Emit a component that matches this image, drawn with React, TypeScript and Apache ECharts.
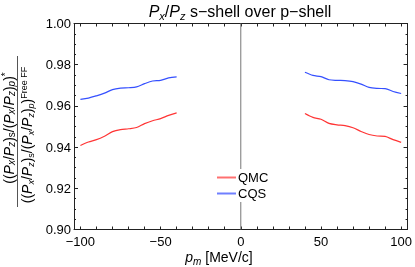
import React, { useEffect, useRef } from "react";
import * as echarts from "echarts";

const leftPm = [-100, -95, -90, -85, -80, -75, -70, -65, -60, -55, -50, -45, -40];
const rightPm = [40, 45, 50, 55, 60, 65, 70, 75, 80, 85, 90, 95, 100];

const qmcLeft = [0.9408, 0.9425, 0.9436, 0.9453, 0.9475, 0.9485, 0.9489, 0.9495, 0.9514, 0.9528, 0.9538, 0.9554, 0.9566];
const cqsLeft = [0.9632, 0.9638, 0.9649, 0.9662, 0.9679, 0.9686, 0.9688, 0.9692, 0.9708, 0.9721, 0.9724, 0.9736, 0.9741];
const qmcRight = [0.9563, 0.9544, 0.9535, 0.9515, 0.9508, 0.9504, 0.9494, 0.9476, 0.9461, 0.9454, 0.9452, 0.9436, 0.9423];
const cqsRight = [0.9763, 0.9748, 0.9742, 0.9727, 0.9724, 0.9723, 0.9718, 0.9706, 0.969, 0.9685, 0.9684, 0.967, 0.966];

const xLabelValues = [-100, -50, 0, 50, 100];
const xTickValues = [-100, -90, -80, -70, -60, -50, -40, -30, -20, -10, 0, 10, 20, 30, 40, 50, 60, 70, 80, 90, 100];

const RED = "#ff3535";
const BLUE = "#3550ff";
const FONT = "Liberation Sans, Arial, sans-serif";

const pair = (xs: number[], ys: number[]) => xs.map((x, i) => [x, ys[i]]);

const richBase = (size: number, subSize: number, lh: number) => ({
  n: { fontSize: size, fontFamily: FONT, color: "#000", lineHeight: lh },
  i: { fontSize: size, fontFamily: FONT, fontStyle: "italic", color: "#000", lineHeight: lh },
  sub: { fontSize: subSize, fontFamily: FONT, color: "#000", verticalAlign: "bottom", lineHeight: lh },
  isub: { fontSize: subSize, fontFamily: FONT, fontStyle: "italic", color: "#000", verticalAlign: "bottom", lineHeight: lh },
  sup: { fontSize: subSize, fontFamily: FONT, color: "#000", verticalAlign: "top", lineHeight: lh },
});

export default function App() {
  const ref = useRef<HTMLDivElement>(null);
  useEffect(() => {
    if (!ref.current) return;
    const chart = echarts.init(ref.current, undefined, { renderer: "svg" });
    const axisLineStyle = { color: "#222", width: 1 };
    const xCommon = {
      type: "value" as const,
      min: -104,
      max: 104,
      splitLine: { show: false },
      axisLine: { show: true, onZero: false, lineStyle: axisLineStyle },
      axisTick: { show: true, inside: true, length: 3, customValues: xTickValues, lineStyle: axisLineStyle },
    };
    const yCommon = {
      type: "value" as const,
      min: 0.9,
      max: 1.0,
      interval: 0.02,
      splitLine: { show: false },
      axisLine: { show: true, onZero: false, lineStyle: axisLineStyle },
      axisTick: { show: true, inside: true, length: 4, lineStyle: axisLineStyle },
      minorTick: { show: true, splitNumber: 4, length: 2, lineStyle: axisLineStyle },
    };
    const lineSeries = (name: string, data: number[][], color: string) => ({
      name,
      type: "line",
      data,
      smooth: 0.3,
      showSymbol: false,
      symbol: "none",
      lineStyle: { color, width: 1.2 },
      itemStyle: { color },
      silent: true,
      z: 3,
    });
    const pairText = (tail: string) =>
      "{n|((}{i|P}{isub|x}{n|/}{i|P}{isub|z}{n|)}{sub|s}{n|/(}{i|P}{isub|x}{n|/}{i|P}{isub|z}{n|)}{isub|p}{n|)}" + tail;
    chart.setOption({
      animation: false,
      grid: { left: 74, right: 5, top: 23.5, bottom: 37.5, containLabel: false },
      xAxis: [
        {
          ...xCommon,
          position: "bottom",
          axisLabel: {
            show: true,
            customValues: xLabelValues,
            color: "#000",
            fontSize: 13,
            fontFamily: FONT,
            margin: 5,
            formatter: (v: number) => (v < 0 ? "\u2212" + Math.abs(v) : String(v)),
          },
        },
        { ...xCommon, position: "top", axisLabel: { show: false } },
      ],
      yAxis: [
        {
          ...yCommon,
          position: "left",
          axisLabel: {
            show: true,
            color: "#000",
            fontSize: 13,
            fontFamily: FONT,
            margin: 3,
            formatter: (v: number) => v.toFixed(2),
          },
        },
        { ...yCommon, position: "right", axisLabel: { show: false } },
      ],
      legend: {
        orient: "vertical",
        left: 214,
        top: 169,
        data: [
          { name: "QMC", itemStyle: { color: "#ff7070" } },
          { name: "CQS", itemStyle: { color: "#6f7fff" } },
        ],
        icon: "rect",
        itemWidth: 19,
        itemHeight: 2,
        itemGap: 3,
        padding: [2, 3, 2, 3],
        backgroundColor: "#fff",
        textStyle: { fontSize: 13, fontFamily: FONT, color: "#000", padding: [0, 0, 0, -3] },
        selectedMode: false,
      },
      series: [
        {
          name: "zero",
          type: "line",
          data: [
            [0, 0.9],
            [0, 1.0],
          ],
          showSymbol: false,
          symbol: "none",
          lineStyle: { color: "#777", width: 1 },
          silent: true,
          z: 1,
        },
        lineSeries("QMC", pair(leftPm, qmcLeft), RED),
        lineSeries("QMC", pair(rightPm, qmcRight), RED),
        lineSeries("CQS", pair(leftPm, cqsLeft), BLUE),
        lineSeries("CQS", pair(rightPm, cqsRight), BLUE),
      ],
      graphic: [
        {
          type: "text",
          style: {
            x: 240,
            y: 11,
            align: "center",
            verticalAlign: "middle",
            text: "{i|P}{isub|x}{n|/}{i|P}{isub|z}{n| s\u2212shell over p\u2212shell}",
            rich: richBase(16, 11, 20),
          },
        },
        {
          type: "text",
          style: {
            x: 219,
            y: 257,
            align: "center",
            verticalAlign: "middle",
            text: "{i|p}{isub|m}{n| [MeV/c]}",
            rich: richBase(14, 10, 18),
          },
        },
        {
          type: "text",
          x: 8.5,
          y: 128,
          rotation: Math.PI / 2,
          style: {
            x: 0,
            y: 0,
            align: "center",
            verticalAlign: "middle",
            text: pairText("{sup|*}"),
            rich: richBase(14, 10, 16),
          },
        },
        {
          type: "line",
          shape: { x1: 17.5, y1: 56, x2: 17.5, y2: 207 },
          style: { stroke: "#555", lineWidth: 1 },
        },
        {
          type: "text",
          x: 27,
          y: 135,
          rotation: Math.PI / 2,
          style: {
            x: 0,
            y: 0,
            align: "center",
            verticalAlign: "middle",
            text: pairText("{sup|Free FF}"),
            rich: richBase(14, 9, 16),
          },
        },
      ],
    });
    return () => chart.dispose();
  }, []);
  return <div ref={ref} style={{ position: "fixed", left: 0, top: 0, width: 415, height: 267 }} />;
}
